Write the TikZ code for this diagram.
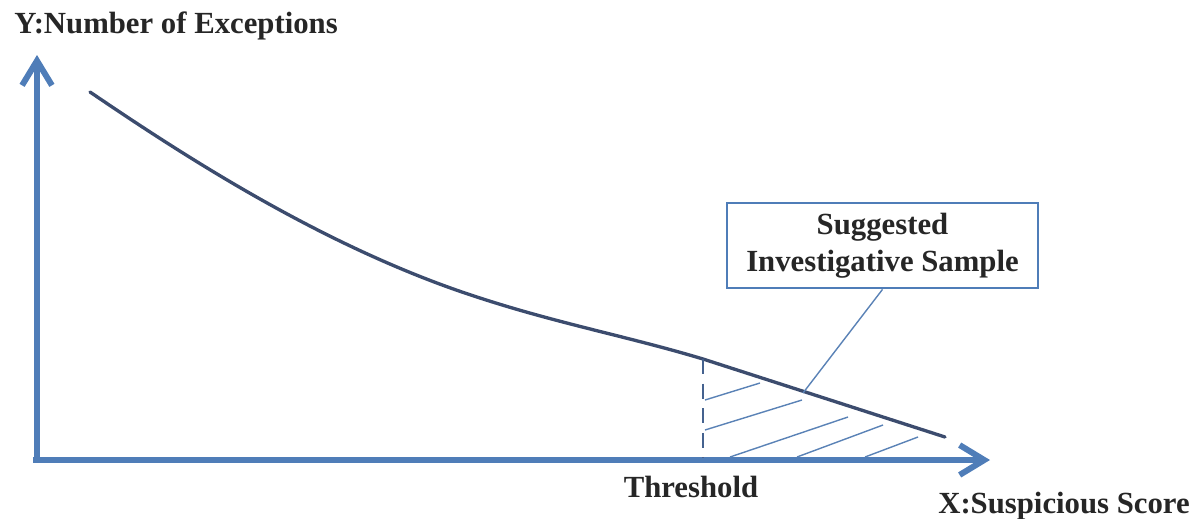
\documentclass[tikz,border=0pt]{standalone}
\usepackage{fontspec}
\setmainfont{Liberation Serif}
\usetikzlibrary{arrows.meta}
\definecolor{axisblue}{HTML}{4F7DB8}
\definecolor{curvenavy}{HTML}{3C4C6E}
\definecolor{hatchblue}{HTML}{5A82B6}
\tikzset{
  axisline/.style={draw=axisblue, line width=3.4pt, line cap=butt,
    -{Straight Barb[length=14pt, width=17pt, line width=3.4pt]}},
  curveline/.style={draw=curvenavy, line width=1.9pt},
  hatchline/.style={draw=hatchblue, line width=0.8pt},
  dashline/.style={draw=curvenavy!55!axisblue, line width=1.5pt, dash pattern=on 8.5pt off 5.5pt},
  lbl/.style={font=\fontsize{17.5}{21}\selectfont\bfseries, inner sep=0pt, text=black!85},
  callbox/.style={draw=axisblue, line width=1.6pt, minimum width=6.22cm, minimum height=1.7cm,
    align=center, font=\fontsize{17.5}{21}\selectfont\bfseries, text=black!85, inner sep=0pt},
}
\begin{document}
\begin{tikzpicture}[x=0.02cm, y=-0.02cm]
\useasboundingbox (0,0) rectangle (1200,518);
% axes
\coordinate (Ytip) at (37,55);
\coordinate (Xtip) at (990,460);
\draw[axisline] (33,460) -- (Xtip);
\draw[axisline] (37,461.7) -- (Ytip);
% curve
\draw[curveline, line cap=round] (90,92) .. controls (190,160) and (330,250) .. (480,298)
  .. controls (560,324) and (630,337) .. (703,359) -- (945,437);
% threshold dashed line
\coordinate (thtop) at (703,359);
\coordinate (thbot) at (703,458);
\draw[dashline] (thtop) -- (thbot);
% hatch
\draw[hatchline] (705,400) -- (760,383);
\draw[hatchline] (705,430) -- (802,400);
\draw[hatchline] (730,457) -- (848,417);
\draw[hatchline] (797,457) -- (883,425);
\draw[hatchline] (865,457) -- (918,437);
% callout
\node[callbox] (box) at (882.5,245.5) {Suggested\\Investigative Sample};
\coordinate (tip) at (803,393);
\draw[hatchline] (box.south) -- (tip);
% labels
\node[lbl, anchor=base west] (ylab) at (14,33) {Y:Number of Exceptions};
\node[lbl, anchor=base] (thr) at (691,497) {Threshold};
\node[lbl, anchor=base] (xlab) at (1064,513) {X:Suspicious Score};
\end{tikzpicture}
\end{document}
